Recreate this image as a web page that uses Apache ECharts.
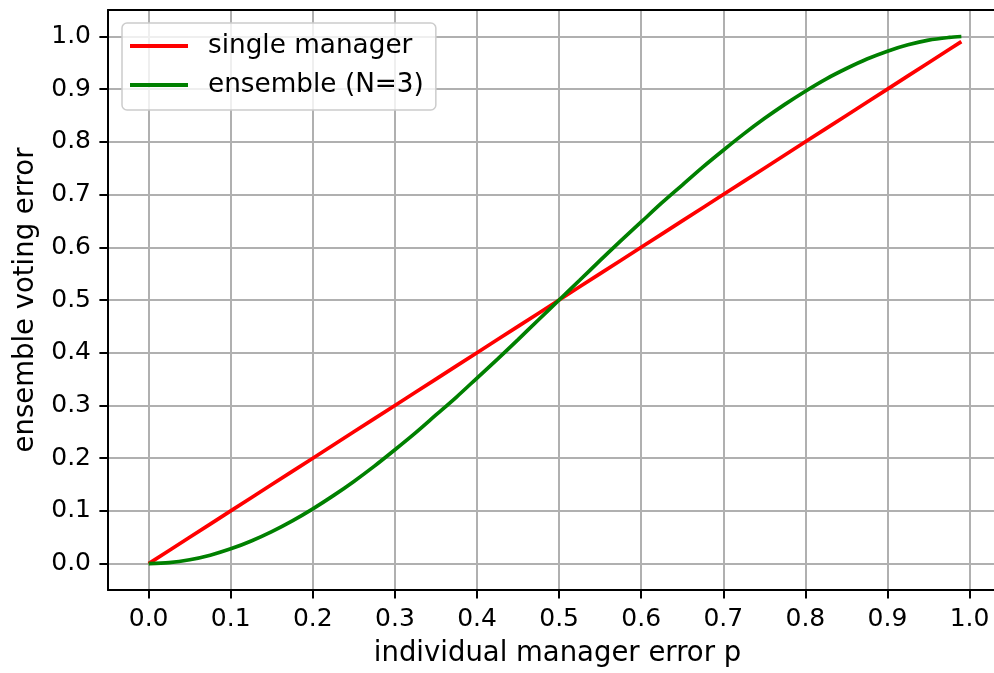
<!DOCTYPE html>
<html>
<head>
<meta charset="utf-8">
<script src="https://cdn.jsdelivr.net/npm/echarts@6/dist/echarts.min.js"></script>
<style>html,body{margin:0;padding:0;background:#fff;}#chart{width:994px;height:673px;}</style>
</head>
<body>
<div id="chart"></div>
<script>
// individual manager error p
const pValues = [0, 0.025, 0.05, 0.075, 0.10, 0.125, 0.15, 0.175, 0.20, 0.225, 0.25, 0.275, 0.30, 0.325, 0.35, 0.375, 0.40, 0.425, 0.45, 0.475, 0.50,
  0.525, 0.55, 0.575, 0.60, 0.625, 0.65, 0.675, 0.70, 0.725, 0.75, 0.775, 0.80, 0.825, 0.85, 0.875, 0.90, 0.925, 0.95, 0.975, 0.99];
// single manager error
const singleManager = [0, 0.025, 0.05, 0.075, 0.10, 0.125, 0.15, 0.175, 0.20, 0.225, 0.25, 0.275, 0.30, 0.325, 0.35, 0.375, 0.40, 0.425, 0.45, 0.475, 0.50,
  0.525, 0.55, 0.575, 0.60, 0.625, 0.65, 0.675, 0.70, 0.725, 0.75, 0.775, 0.80, 0.825, 0.85, 0.875, 0.90, 0.925, 0.95, 0.975, 0.99];
// ensemble (N=3) voting error
const ensembleN3 = [0, 0.0018, 0.0073, 0.016, 0.028, 0.043, 0.0608, 0.0812, 0.104, 0.129, 0.156, 0.185, 0.216, 0.248, 0.282, 0.316, 0.352, 0.388, 0.425, 0.4625, 0.50,
  0.5375, 0.575, 0.612, 0.648, 0.684, 0.718, 0.752, 0.784, 0.815, 0.844, 0.871, 0.896, 0.919, 0.939, 0.957, 0.972, 0.984, 0.993, 0.998, 0.9997];
const xTicks = [0, 0.1, 0.2, 0.3, 0.4, 0.5, 0.6, 0.7, 0.8, 0.9, 1.0];
const yTicks = [0, 0.1, 0.2, 0.3, 0.4, 0.5, 0.6, 0.7, 0.8, 0.9, 1.0];
const seriesNames = ['single manager', 'ensemble (N=3)'];

const FONT = 'DejaVu Sans';
const chart = echarts.init(document.getElementById('chart'), null, {renderer: 'canvas'});
const axisCommon = {
  type: 'value',
  nameLocation: 'middle',
  nameTextStyle: {fontFamily: FONT, fontSize: 27.5, color: '#000'},
  axisLine: {show: true, onZero: false, lineStyle: {color: '#000', width: 2}},
  axisTick: {show: true, inside: false, length: 8.6, lineStyle: {color: '#000', width: 2}},
  axisLabel: {fontFamily: FONT, fontSize: 25, color: '#000', margin: 17, formatter: v => v.toFixed(1), showMinLabel: true, showMaxLabel: true},
  splitLine: {show: true, lineStyle: {color: '#b0b0b0', width: 2}}
};
const option = {
  animation: false,
  backgroundColor: '#fff',
  grid: {left: 108, top: 10, width: 894, height: 580, containLabel: false, outerBoundsMode: 'none'},
  xAxis: [
    Object.assign({}, axisCommon, {
      name: 'individual manager error p', nameGap: 50,
      nameTextStyle: Object.assign({}, axisCommon.nameTextStyle, {padding: [0, 0, 0, 5]}),
      min: -0.0495, max: 1.0395,
      axisTick: Object.assign({}, axisCommon.axisTick, {customValues: xTicks}),
      axisLabel: Object.assign({}, axisCommon.axisLabel, {customValues: xTicks})
    }),
    {type: 'value', position: 'top', min: -0.0495, max: 1.0395,
     axisLine: {show: true, onZero: false, lineStyle: {color: '#000', width: 2}},
     axisTick: {show: false}, axisLabel: {show: false}, splitLine: {show: false}}
  ],
  yAxis: Object.assign({}, axisCommon, {
    name: 'ensemble voting error', nameGap: 68,
    min: -0.05, max: 1.05,
    axisTick: Object.assign({}, axisCommon.axisTick, {customValues: yTicks}),
    axisLabel: Object.assign({}, axisCommon.axisLabel, {customValues: yTicks})
  }),
  legend: {
    orient: 'vertical', left: 122, top: 23,
    data: seriesNames,
    icon: 'rect', itemWidth: 58, itemHeight: 4, itemGap: 9,
    padding: [8, 12, 10, 8],
    backgroundColor: 'rgba(255,255,255,0.8)', borderColor: '#cccccc', borderWidth: 1.5, borderRadius: 5,
    textStyle: {fontFamily: FONT, fontSize: 26.3, color: '#000', lineHeight: 30, padding: [0, 0, 0, 15]}
  },
  series: [
    {name: seriesNames[0], type: 'line', xAxisIndex: 0, data: pValues.map((p, i) => [p, singleManager[i]]), showSymbol: false, symbol: 'none',
     lineStyle: {color: '#ff0000', width: 3.7}, itemStyle: {color: '#ff0000'}, z: 3},
    {name: seriesNames[1], type: 'line', xAxisIndex: 0, data: pValues.map((p, i) => [p, ensembleN3[i]]), showSymbol: false, symbol: 'none', smooth: 0.3,
     lineStyle: {color: '#008000', width: 3.7}, itemStyle: {color: '#008000'}, z: 4}
  ]
};
chart.setOption(option);
</script>
</body>
</html>
